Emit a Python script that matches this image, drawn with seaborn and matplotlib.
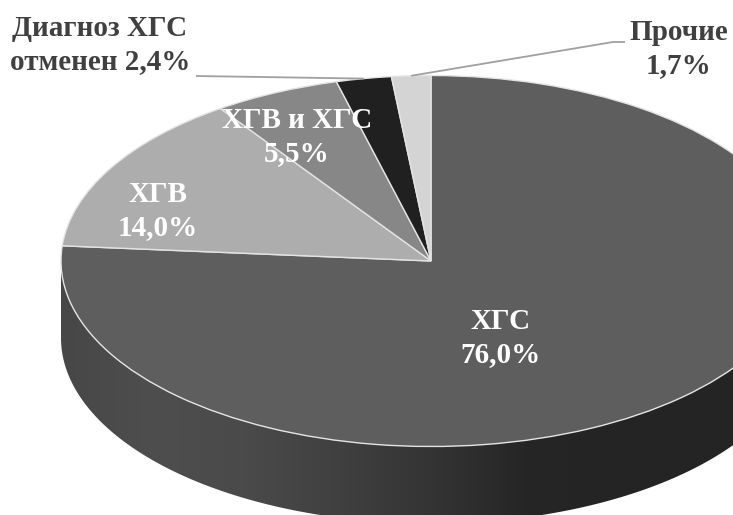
import numpy as np
import matplotlib
matplotlib.use("Agg")
import matplotlib.pyplot as plt
from matplotlib.patches import PathPatch
from matplotlib.path import Path
import seaborn as sns

# Diagnosis shares, listed clockwise from twelve o'clock
categories = ["ХГС", "ХГВ", "ХГВ и ХГС", "Диагноз ХГС", "Прочие"]
shares = [76.0, 14.0, 5.5, 2.4, 1.7]
share_text = ["76,0%", "14,0%", "5,5%", "2,4%", "1,7%"]
slice_colors = ["#5e5e5e", "#adadad", "#878787", "#202020", "#d4d4d4"]

sns.set_theme(style="white")
plt.rcParams["font.family"] = ["Liberation Serif", "DejaVu Serif"]

W, H = 733, 515
CX, CY = 431, 261      # pie centre, px
RX, RY = 370, 185.5    # tilted ellipse radii, px
DEPTH = 77 / RY        # height of the rim, in units of RY


def px(x, y):
    """Pixel position to pie units (unit circle stretched by the axes)."""
    return (x - CX) / RX, (CY - y) / RY


fig = plt.figure(figsize=(W / 100, H / 100), dpi=100, facecolor="white")
ax = fig.add_axes([0, 0, 1, 1])

wedges, _ = ax.pie(
    shares, colors=slice_colors, startangle=90, counterclock=False, radius=1,
    wedgeprops=dict(edgecolor="#e4e4e4", linewidth=1.0, zorder=3),
)

# Rim below the front half of the disc, shaded left to right
theta = np.linspace(np.pi, 2 * np.pi, 300)
rim_xy = np.r_[np.c_[np.cos(theta), np.sin(theta)],
               np.c_[np.cos(theta[::-1]), np.sin(theta[::-1]) - DEPTH]]
rim_path = Path(np.r_[rim_xy, rim_xy[:1]], closed=True)
rim_cmap = sns.blend_palette(
    ["#474747", "#4e4e4e", "#4a4a4a", "#404040", "#343434",
     "#262626", "#242424", "#242424", "#242424"],
    as_cmap=True,
)
rim = ax.imshow(np.linspace(0, 1, 256)[None, :], cmap=rim_cmap, aspect="auto",
                extent=(-1, 1, -1 - DEPTH, 1), zorder=1, interpolation="bilinear")
rim.set_clip_path(PathPatch(rim_path, transform=ax.transData))

ax.set_aspect("auto")
x0, y1 = px(0, 0)
x1, y0 = px(W, H)
ax.set_xlim(x0, x1)
ax.set_ylim(y0, y1)
ax.axis("off")

# Labels printed inside the slices
inner = dict(ha="center", va="center", color="white", fontweight="bold",
             fontsize=21, zorder=5, linespacing=1.28)
for i, pos in zip(range(3), [(501, 338), (158, 211), (297, 137)]):
    ax.text(*px(*pos), f"{categories[i]}\n{share_text[i]}", **inner)


# Outside labels with leader lines running to the middle of each slice's edge
def slice_edge(i):
    w = wedges[i]
    a = np.deg2rad((w.theta1 + w.theta2) / 2)
    return np.cos(a), np.sin(a)


outer = dict(ha="center", va="center", color="#404040", fontweight="bold",
             fontsize=21, zorder=5, linespacing=1.28)
ax.text(*px(100, 45), f"{categories[3]}\nотменен {share_text[3]}", **outer)
ax.text(*px(679, 49), f"{categories[4]}\n{share_text[4]}", **outer)

line = dict(color="#a0a0a0", linewidth=1.3, zorder=4, solid_capstyle="butt")
xa, ya = slice_edge(3)
xb, yb = px(196, 76)
ax.plot([xb, xa], [yb, ya], **line)
xa, ya = slice_edge(4)
xb, yb = px(613, 42)
xc, yc = px(625, 42)
ax.plot([xa, xb, xc], [ya, yb, yc], **line)

fig.savefig("out.png", dpi=100, facecolor="white")
